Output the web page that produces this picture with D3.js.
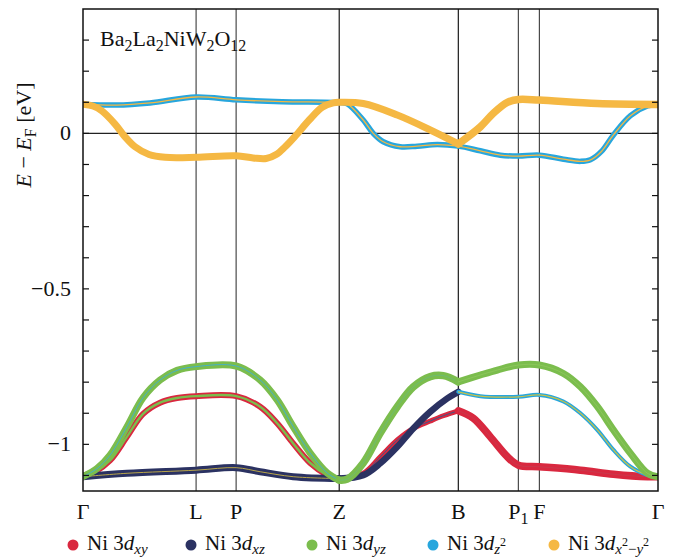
<!DOCTYPE html>
<html>
<head>
<meta charset="utf-8">
<script src="https://cdn.jsdelivr.net/npm/d3@7/dist/d3.min.js"></script>
<style>
  html, body { margin: 0; padding: 0; background: #fff; }
</style>
</head>
<body>
<svg id="chart" width="689" height="559" font-family="'Liberation Serif', 'Times New Roman', Times, serif"></svg>
<script>
// High-symmetry points along the k-path
const kPath = [0, 1.13, 1.53, 2.56, 3.75, 4.35, 4.56, 5.745];
const kLabels = ["Γ", "L", "P", "Z", "B", "P1", "F", "Γ"];
const yTicks = [0, -0.5, -1];
const yMinor = [-1.1, -1.0, -0.9, -0.8, -0.7, -0.6, -0.5, -0.4, -0.3, -0.2, -0.1, 0, 0.1, 0.2, 0.3];

// Bands near the Fermi level: [k, E - EF (eV)]
const dx2y2GammaB = [[0,0.094],[0.10,0.088],[0.19,0.072],[0.32,0.030],[0.42,-0.011],[0.52,-0.043],[0.66,-0.068],[0.82,-0.077],[1.13,-0.077],[1.53,-0.072],[1.70,-0.079],[1.83,-0.081],[1.93,-0.068],[2.02,-0.043],[2.12,-0.009],[2.26,0.043],[2.39,0.084],[2.50,0.098],[2.56,0.100],[2.80,0.096],[3.14,0.059],[3.47,0.011],[3.75,-0.034]];
const dx2y2BGamma = [[3.75,-0.034],[3.97,0.021],[4.10,0.065],[4.24,0.100],[4.35,0.109],[4.56,0.107],[5.14,0.096],[5.745,0.093]];
const dz2Band = [[0,0.094],[0.33,0.091],[0.67,0.098],[1.13,0.117],[1.53,0.108],[1.99,0.102],[2.56,0.099],[2.64,0.095],[2.80,0.043],[2.90,0.0],[3.00,-0.027],[3.17,-0.043],[3.34,-0.041],[3.54,-0.036],[3.75,-0.041],[3.97,-0.056],[4.17,-0.070],[4.35,-0.073],[4.56,-0.070],[4.80,-0.083],[4.97,-0.090],[5.07,-0.085],[5.18,-0.058],[5.30,-0.005],[5.47,0.057],[5.64,0.088],[5.745,0.093]];

// Lower t2g-like manifold
const xzGammaZ = [[0,-1.104],[0.44,-1.093],[1.13,-1.083],[1.53,-1.075],[1.77,-1.088],[2.10,-1.104],[2.56,-1.110]];
const xzZB = [[2.56,-1.110],[2.80,-1.099],[2.97,-1.061],[3.14,-1.008],[3.30,-0.949],[3.47,-0.895],[3.64,-0.852],[3.75,-0.831]];
const mixBGamma = [[3.75,-0.831],[3.97,-0.845],[4.35,-0.847],[4.56,-0.841],[4.80,-0.862],[4.97,-0.900],[5.14,-0.954],[5.30,-1.018],[5.47,-1.072],[5.64,-1.099],[5.745,-1.106]];
const xyGammaZ = [[0,-1.100],[0.12,-1.088],[0.27,-1.052],[0.44,-0.975],[0.60,-0.902],[0.77,-0.866],[0.94,-0.851],[1.13,-0.845],[1.53,-0.845],[1.77,-0.879],[1.94,-0.932],[2.10,-0.997],[2.27,-1.060],[2.44,-1.099],[2.56,-1.115]];
const xyZB = [[2.56,-1.115],[2.80,-1.093],[2.97,-1.040],[3.14,-0.986],[3.30,-0.949],[3.47,-0.925],[3.60,-0.908],[3.75,-0.892]];
const xyBGamma = [[3.75,-0.892],[3.90,-0.916],[4.07,-0.976],[4.24,-1.040],[4.35,-1.067],[4.56,-1.072],[4.97,-1.083],[5.30,-1.096],[5.64,-1.104],[5.745,-1.104]];
const yzGammaZ = [[0,-1.104],[0.14,-1.078],[0.27,-1.035],[0.44,-0.943],[0.60,-0.850],[0.77,-0.793],[0.94,-0.762],[1.13,-0.750],[1.53,-0.748],[1.77,-0.793],[1.94,-0.857],[2.10,-0.943],[2.27,-1.028],[2.44,-1.092],[2.56,-1.115]];
const yzZB = [[2.56,-1.115],[2.64,-1.112],[2.80,-1.060],[2.97,-0.964],[3.14,-0.879],[3.30,-0.815],[3.47,-0.782],[3.60,-0.779],[3.75,-0.799]];
const yzBGamma = [[3.75,-0.799],[3.97,-0.777],[4.14,-0.761],[4.35,-0.745],[4.56,-0.745],[4.80,-0.772],[4.97,-0.815],[5.14,-0.879],[5.30,-0.954],[5.47,-1.029],[5.64,-1.093],[5.745,-1.104]];

const colors = {
  xy: "#d9283f",
  xz: "#2b3262",
  yz: "#7bbd4d",
  z2: "#27a6dd",
  x2y2: "#f5b843"
};

const svg = d3.select("#chart");
const margin = { left: 83, top: 9, right: 31, bottom: 68 };
const W = 689 - margin.left - margin.right;
const H = 559 - margin.top - margin.bottom;

const x = d3.scaleLinear().domain([0, 5.745]).range([margin.left, margin.left + W]);
const y = d3.scaleLinear().domain([-1.15, 0.4]).range([margin.top + H, margin.top]);

const g = svg.append("g").attr("fill", "#111");

svg.append("defs").append("clipPath").attr("id", "plotClip")
  .append("rect").attr("x", margin.left).attr("y", margin.top).attr("width", W).attr("height", H);

// high-symmetry vertical lines (Z and B drawn darker)
g.selectAll("line.kline").data(kPath.slice(1, -1)).join("line")
  .attr("class", "kline")
  .attr("x1", d => x(d)).attr("x2", d => x(d))
  .attr("y1", margin.top).attr("y2", margin.top + H)
  .attr("stroke", (d, i) => (i === 2 || i === 3) ? "#1a1a1a" : "#4a4a4a")
  .attr("stroke-width", 1.2);

// Fermi level
g.append("line")
  .attr("x1", margin.left).attr("x2", margin.left + W)
  .attr("y1", y(0)).attr("y2", y(0))
  .attr("stroke", "#222").attr("stroke-width", 1.2);

const line = d3.line().x(d => x(d[0])).y(d => y(d[1])).curve(d3.curveCatmullRom.alpha(0.5));
const bands = g.append("g").attr("clip-path", "url(#plotClip)");

function band(data, color, width, opacity = 1) {
  bands.append("path").attr("d", line(data))
    .attr("fill", "none").attr("stroke", color).attr("stroke-width", width)
    .attr("stroke-linecap", "round").attr("stroke-linejoin", "round")
    .attr("stroke-opacity", opacity);
}

// lower manifold
band(xyGammaZ, colors.xy, 6);
band(xyGammaZ, colors.yz, 2.4);
band(xyZB, colors.xy, 5);
band(xyZB, "#3d5a8a", 1);
band(xyBGamma, colors.xy, 7.5);
band(xyBGamma, "#b84a5a", 0.8, 0.6);

band(xzGammaZ, colors.xz, 7);
band(xzGammaZ, "#b9a64a", 1);
band(xzZB, colors.xz, 6.5);
band(mixBGamma, colors.z2, 4);
band(mixBGamma, "#c8c24a", 1.2);

band(yzGammaZ, colors.yz, 7);
band(yzGammaZ, "#45b0c8", 1);
band(yzZB, colors.yz, 7.5);
band(yzZB, "#5fb89a", 0.8, 0.6);
band(yzBGamma, colors.yz, 7);
band(yzBGamma, "#9ccf6a", 0.8, 0.6);

// near-Fermi bands
band(dz2Band, colors.z2, 5.5);
band(dz2Band, colors.x2y2, 1.3);
band(dx2y2GammaB, colors.x2y2, 7);
band(dx2y2BGamma, colors.x2y2, 7.5);

// frame
g.append("rect")
  .attr("x", margin.left).attr("y", margin.top).attr("width", W).attr("height", H)
  .attr("fill", "none").attr("stroke", "#111").attr("stroke-width", 1.5);

// inward ticks on both sides
const tickLen = 6;
g.selectAll("line.tl").data(yMinor).join("line")
  .attr("x1", margin.left).attr("x2", margin.left + tickLen)
  .attr("y1", d => y(d)).attr("y2", d => y(d))
  .attr("stroke", "#111").attr("stroke-width", 1.2);
g.selectAll("line.tr").data(yMinor).join("line")
  .attr("x1", margin.left + W).attr("x2", margin.left + W - tickLen)
  .attr("y1", d => y(d)).attr("y2", d => y(d))
  .attr("stroke", "#111").attr("stroke-width", 1.2);

// y tick labels
const fmt = d => d === 0 ? "0" : ("−" + String(Math.abs(d)));
g.selectAll("text.yl").data(yTicks).join("text")
  .attr("x", 71).attr("y", d => y(d) + 7)
  .attr("text-anchor", "end").attr("font-size", 22)
  .text(fmt);

// x labels
const xl = g.selectAll("text.xl").data(kPath).join("text")
  .attr("x", d => x(d)).attr("y", 519)
  .attr("text-anchor", "middle").attr("font-size", 22);
xl.each(function (d, i) {
  const t = d3.select(this);
  const lab = kLabels[i];
  if (lab === "P1") {
    t.append("tspan").text("P");
    t.append("tspan").attr("font-size", 16).attr("dy", 5).text("1");
  } else {
    t.text(lab);
  }
});

// y axis title
const yt = g.append("text")
  .attr("transform", "translate(31,135) rotate(-90)")
  .attr("text-anchor", "middle").attr("font-size", 22);
yt.append("tspan").attr("font-style", "italic").text("E");
yt.append("tspan").text(" − ");
yt.append("tspan").attr("font-style", "italic").text("E");
yt.append("tspan").attr("font-size", 16).attr("dy", 5).text("F");
yt.append("tspan").attr("dy", -5).text(" [eV]");

// compound name
const title = g.append("text").attr("x", 100).attr("y", 46).attr("font-size", 22);
[["Ba", false], ["2", true], ["La", false], ["2", true], ["NiW", false], ["2", true], ["O", false], ["12", true]]
  .forEach(([s, sub], i, arr) => {
    const prevSub = i > 0 && arr[i - 1][1];
    const dy = sub ? (prevSub ? 0 : 5) : (prevSub ? -5 : 0);
    title.append("tspan").attr("font-size", sub ? 16 : 22).attr("dy", dy).text(s);
  });

// legend
const legendItems = [
  { key: "xy", x: 73 },
  { key: "xz", x: 191 },
  { key: "yz", x: 312 },
  { key: "z2", x: 433 },
  { key: "x2y2", x: 554 }
];
const lg = g.append("g");
legendItems.forEach(it => {
  lg.append("circle").attr("cx", it.x).attr("cy", 545).attr("r", 5.5).attr("fill", colors[it.key]);
  const t = lg.append("text").attr("x", it.x + 14).attr("y", 550).attr("font-size", 21);
  t.append("tspan").text("Ni 3");
  t.append("tspan").attr("font-style", "italic").text("d");
  if (it.key === "xy" || it.key === "xz" || it.key === "yz") {
    t.append("tspan").attr("font-style", "italic").attr("font-size", 15).attr("dy", 4).text(it.key);
  } else if (it.key === "z2") {
    t.append("tspan").attr("font-style", "italic").attr("font-size", 15).attr("dy", 4).text("z");
    t.append("tspan").attr("font-size", 12).attr("dy", -8).text("2");
  } else {
    t.append("tspan").attr("font-style", "italic").attr("font-size", 15).attr("dy", 4).text("x");
    t.append("tspan").attr("font-size", 12).attr("dy", -8).text("2");
    t.append("tspan").attr("font-size", 15).attr("dy", 8).text("−");
    t.append("tspan").attr("font-style", "italic").attr("font-size", 15).text("y");
    t.append("tspan").attr("font-size", 12).attr("dy", -8).text("2");
  }
});
</script>
</body>
</html>
